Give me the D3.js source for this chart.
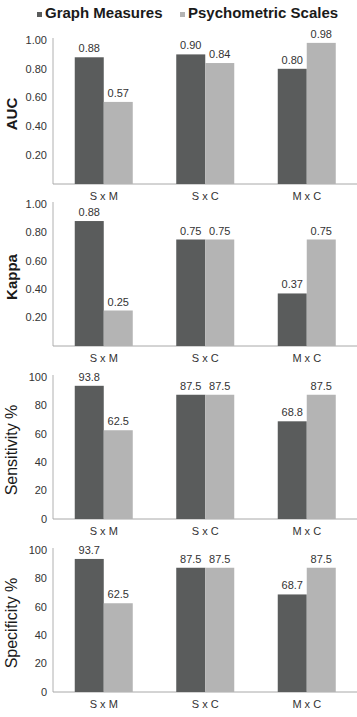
<!DOCTYPE html>
<html>
<head>
<meta charset="utf-8">
<script src="https://cdn.jsdelivr.net/npm/d3@7"></script>
<style>
  body { margin: 0; background: #fff; }
  svg { display: block; font-family: "Liberation Sans", Arial, sans-serif; }
</style>
</head>
<body>
<svg id="chart" width="357" height="717"></svg>
<script>
// chart values
const categories = ["S x M", "S x C", "M x C"];
const seriesNames = ["Graph Measures", "Psychometric Scales"];

const aucGraph = [0.88, 0.90, 0.80];
const aucPsych = [0.57, 0.84, 0.98];
const kappaGraph = [0.88, 0.75, 0.37];
const kappaPsych = [0.25, 0.75, 0.75];
const sensGraph = [93.8, 87.5, 68.8];
const sensPsych = [62.5, 87.5, 87.5];
const specGraph = [93.7, 87.5, 68.7];
const specPsych = [62.5, 87.5, 87.5];

const ratioTicks = [0.2, 0.4, 0.6, 0.8, 1.0];
const pctTicks = [0, 20, 40, 60, 80, 100];

const colors = ["#5a5c5c", "#b4b4b4"];

var svg = d3.select("#chart");

// panels, top to bottom
var panels = [
    { title: "AUC", bold: true, graph: aucGraph, psych: aucPsych, max: 1, ticks: ratioTicks, fmt: d3.format(".2f"), top: 40, bottom: 184 },
    { title: "Kappa", bold: true, graph: kappaGraph, psych: kappaPsych, max: 1, ticks: ratioTicks, fmt: d3.format(".2f"), top: 204, bottom: 346 },
    { title: "Sensitivity %", bold: false, graph: sensGraph, psych: sensPsych, max: 100, ticks: pctTicks, fmt: d3.format("d"), top: 377, bottom: 519 },
    { title: "Specificity %", bold: false, graph: specGraph, psych: specPsych, max: 100, ticks: pctTicks, fmt: d3.format("d"), top: 550, bottom: 692 }
];

var axisX = 53;
var x = d3.scaleBand()
    .domain(categories)
    .range([axisX, 357.5])
    .paddingInner(0.4286)
    .paddingOuter(0.2143);

var xs = d3.scaleBand()
    .domain(seriesNames)
    .range([0, x.bandwidth()]);

// legend
var legend = svg.append("g");
var legendPos = [37, 180];
seriesNames.forEach(function (name, i) {
    legend.append("rect")
        .attr("x", legendPos[i])
        .attr("y", 12)
        .attr("width", 5)
        .attr("height", 5)
        .attr("fill", colors[i]);
    legend.append("text")
        .attr("x", legendPos[i] + 8)
        .attr("y", 18)
        .attr("font-size", 15)
        .attr("font-weight", "bold")
        .attr("fill", "#1a1a1a")
        .text(name);
});

panels.forEach(function (p) {
    var y = d3.scaleLinear().domain([0, p.max]).range([p.bottom, p.top]);
    var g = svg.append("g");

    // y axis line and baseline
    g.append("line")
        .attr("x1", axisX).attr("x2", axisX)
        .attr("y1", y(p.max) - 2).attr("y2", y(0))
        .attr("stroke", "#b0b0b0");
    g.append("line")
        .attr("x1", axisX).attr("x2", 357)
        .attr("y1", y(0)).attr("y2", y(0))
        .attr("stroke", "#a8a8a8");

    // tick labels
    g.selectAll(".tick")
        .data(p.ticks)
        .enter().append("text")
        .attr("x", 47)
        .attr("y", function (d) { return y(d); })
        .attr("dy", "0.35em")
        .attr("text-anchor", "end")
        .attr("font-size", 11)
        .attr("fill", "#333")
        .text(p.fmt);

    // y title
    g.append("text")
        .attr("transform", "translate(17," + ((p.top + p.bottom) / 2 + 2) + ") rotate(-90)")
        .attr("text-anchor", "middle")
        .attr("font-size", p.bold ? 15 : 16)
        .attr("font-weight", p.bold ? "bold" : "normal")
        .attr("fill", "#1a1a1a")
        .text(p.title);

    // bars
    var rows = [];
    categories.forEach(function (c, i) {
        rows.push({ cat: c, s: 0, v: p.graph[i] });
        rows.push({ cat: c, s: 1, v: p.psych[i] });
    });

    g.selectAll(".bar")
        .data(rows)
        .enter().append("rect")
        .attr("x", function (d) { return x(d.cat) + xs(seriesNames[d.s]); })
        .attr("y", function (d) { return y(d.v); })
        .attr("width", xs.bandwidth())
        .attr("height", function (d) { return y(0) - y(d.v); })
        .attr("fill", function (d) { return colors[d.s]; });

    // value labels
    g.selectAll(".val")
        .data(rows)
        .enter().append("text")
        .attr("x", function (d) { return x(d.cat) + xs(seriesNames[d.s]) + xs.bandwidth() / 2; })
        .attr("y", function (d) { return y(d.v) - 5; })
        .attr("text-anchor", "middle")
        .attr("font-size", 11)
        .attr("fill", "#333")
        .text(function (d) { return p.max === 1 ? d3.format(".2f")(d.v) : d3.format(".1f")(d.v); });

    // category labels
    g.selectAll(".cat")
        .data(categories)
        .enter().append("text")
        .attr("x", function (d) { return x(d) + x.bandwidth() / 2; })
        .attr("y", y(0) + 16)
        .attr("text-anchor", "middle")
        .attr("font-size", 11)
        .attr("fill", "#333")
        .text(function (d) { return d; });
});
</script>
</body>
</html>
